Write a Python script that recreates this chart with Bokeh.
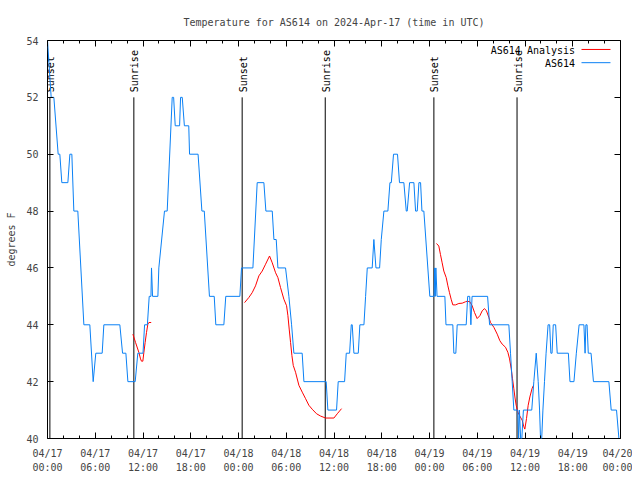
import math
from bokeh.plotting import figure
from bokeh.models import FixedTicker, LinearAxis, Range1d
from bokeh.embed import file_html
from bokeh.resources import INLINE
from bokeh.core.properties import value

TITLE = "Temperature for AS614 on 2024-Apr-17 (time in UTC)"
FONT = "DejaVu Sans Mono"

# Observed temperature (hours since 04/17 00:00 UTC, degrees F)
obs_hours = [0.0, 0.46, 0.8, 1.34, 1.55, 1.8, 2.56, 2.81, 3.06, 3.31, 3.81, 4.57,
             5.32, 5.74, 6.07, 6.87, 7.08, 9.09, 9.43, 9.85, 10.1, 11.02, 11.35,
             12.0, 12.2, 12.55, 12.78, 13.0, 13.07, 13.2, 13.87, 13.99, 14.7, 15.04,
             15.67, 15.85, 16.05, 16.6, 16.72, 16.93, 17.2, 17.75, 17.85, 18.92,
             19.4, 19.7, 20.35, 20.95, 21.15, 22.16, 22.4, 24.17, 24.38, 25.81,
             26.35, 27.19, 27.44, 28.24, 28.45, 28.74, 28.95, 29.91, 30.33, 30.67,
             30.96, 32.0, 32.22, 35.02, 35.23, 36.32, 36.53, 37.33, 37.54, 37.96,
             38.17, 38.29, 38.5, 39.05, 39.25, 39.76, 39.97, 40.18, 40.8, 41.01,
             41.27, 41.73, 41.94, 42.27, 42.77, 43.03, 43.2, 43.48, 43.98, 44.23,
             44.78, 45.08, 45.2, 45.5, 46.04, 46.25, 46.46, 46.67, 46.88, 47.05,
             47.29, 48.04, 48.58, 48.65, 48.72, 48.8, 48.95, 49.93, 50.07, 50.93,
             51.06, 51.31, 51.48, 52.61, 52.8, 53.05, 53.2, 53.35, 55.3, 55.55,
             57.97, 58.18, 58.39, 58.6, 59.1, 59.2, 59.3, 59.45, 59.6, 59.8, 60.85,
             61.11, 61.41, 61.66, 61.83, 61.95, 62.1, 62.25, 62.45, 62.65, 62.9,
             63.1, 63.25, 63.4, 63.55, 63.85, 64.05, 65.45, 65.65, 66.15, 66.45,
             66.8, 67.4, 67.55, 67.65, 67.8, 67.95, 68.3, 68.6, 70.54, 70.83, 71.5,
             71.8]
obs_temp = [54, 52, 52, 50, 50, 49, 49, 50, 50, 48, 48, 44,
            44, 42, 43, 43, 44, 44, 43, 43, 42, 42, 43,
            43, 44, 44, 45, 45, 46, 45, 45, 46, 48, 48,
            52, 52, 51, 51, 52, 52, 51, 51, 50, 50,
            48, 48, 45, 45, 44, 44, 45, 45, 46, 46,
            49, 49, 48, 48, 47, 47, 46, 46, 45, 44,
            43, 43, 42, 42, 41, 41, 42, 42, 43, 43,
            44, 44, 43, 43, 44, 44, 45, 46, 46, 47,
            46, 46, 47, 48, 48, 49, 49, 50, 50, 49,
            49, 48, 48, 49, 49, 48, 48, 49, 49, 48,
            48, 45, 45, 46, 45, 46, 45, 45, 44, 44,
            43, 43, 44, 44, 45, 45, 44, 45, 45, 44,
            44, 43, 42, 41, 41, 40, 41, 40, 40, 41, 41,
            42, 43, 42, 41, 40, 40, 41, 42, 43, 44,
            44, 43, 43, 44, 44, 43, 43, 42, 42, 43,
            44, 44, 43, 44, 44, 43, 43, 42, 42, 41, 41,
            40]

# Analysis series (NaN separates the three runs)
nan = float("nan")
ana_hours = [10.73, 11.06, 11.48, 11.69, 11.81, 11.98, 12.11, 12.27, 12.44, 12.61, 12.74, 13.03,
             nan,
             24.76, 25.30, 25.72, 26.14, 26.56, 26.98, 27.40, 27.90, 28.24, 28.66, 28.95,
             29.28, 29.70, 30.04, 30.21, 30.37, 30.54, 30.71, 30.88, 31.17, 31.59, 32.01,
             32.43, 32.84, 33.26, 33.81, 34.31, 34.94, 35.99, 36.41, 36.95,
             nan,
             48.88, 49.17, 49.38, 49.59, 49.80, 50.10, 50.31, 50.51, 50.72, 50.93, 51.27,
             51.69, 52.11, 52.53, 52.74, 53.07, 53.36, 53.66, 53.99, 54.33, 54.62, 54.91,
             55.16, 55.46, 55.67, 56.09, 56.51, 56.84, 57.13, 57.55, 57.85, 58.06, 58.27,
             58.43, 58.60, 58.73, 58.89, 59.10, 59.35, 59.65, 59.86, 59.98, 60.19, 60.40,
             60.61, 60.90, 61.07]
ana_temp = [43.67, 43.38, 43.03, 42.80, 42.72, 42.72, 43.03, 43.38, 43.73, 44.02, 44.08, 44.08,
            nan,
            44.78, 44.96, 45.13, 45.37, 45.72, 45.89, 46.13, 46.42, 46.18, 45.83, 45.66,
            45.31, 44.90, 44.67, 44.32, 43.85, 43.38, 42.92, 42.57, 42.33, 41.87, 41.63,
            41.40, 41.17, 41.03, 40.87, 40.79, 40.72, 40.72, 40.87, 41.05,
            nan,
            46.86, 46.77, 46.47, 46.18, 45.89, 45.66, 45.37, 45.13, 44.90, 44.70, 44.70,
            44.75, 44.76, 44.81, 44.83, 44.81, 44.67, 44.43, 44.22, 44.32, 44.49, 44.57,
            44.49, 44.26, 44.08, 43.91, 43.67, 43.44, 43.32, 43.21, 43.03, 42.80, 42.45,
            42.10, 41.75, 41.46, 41.17, 40.93, 40.79, 40.64, 40.41, 40.33, 40.70, 41.17,
            41.46, 41.77, 41.87]

sunset_hours = [0.3, 24.46, 48.55]
sunrise_hours = [10.85, 34.9, 59.0]

x_tick_hours = [0, 6, 12, 18, 24, 30, 36, 42, 48, 54, 60, 66, 72]
x_minor_hours = [h for h in range(0, 73, 2) if h % 6 != 0]
x_tick_labels = ["04/17\n00:00", "04/17\n06:00", "04/17\n12:00", "04/17\n18:00",
                 "04/18\n00:00", "04/18\n06:00", "04/18\n12:00", "04/18\n18:00",
                 "04/19\n00:00", "04/19\n06:00", "04/19\n12:00", "04/19\n18:00",
                 "04/20\n00:00"]
y_ticks = [40, 42, 44, 46, 48, 50, 52, 54]

legend_labels = ["AS614 Analysis", "AS614"]
RED = "#ff0000"
BLUE = "#0a80f5"

p = figure(width=632, height=476, x_range=Range1d(0, 72), y_range=Range1d(40, 54),
           output_backend="svg", toolbar_location=None, title=TITLE,
           min_border_left=47, min_border_right=12, min_border_top=40, min_border_bottom=36)
p.background_fill_color = "white"
p.border_fill_color = "white"
p.outline_line_color = "black"
p.outline_line_width = 1
p.xgrid.visible = False
p.ygrid.visible = False

p.title.text_font = FONT
p.title.text_font_size = "10px"
p.title.text_font_style = "normal"
p.title.align = "center"
p.title.standoff = 26

xt = FixedTicker(ticks=x_tick_hours, minor_ticks=x_minor_hours)
yt = FixedTicker(ticks=y_ticks)

ax = p.xaxis[0]
ax.ticker = xt
ax.major_label_overrides = {h: lab for h, lab in zip(x_tick_hours, x_tick_labels)}
ax.major_tick_in = 6
ax.major_tick_out = 0
ax.minor_tick_in = 3
ax.minor_tick_out = 0
ax.major_label_standoff = 9
ax.major_label_text_font = FONT
ax.major_label_text_font_size = "10px"
ax.major_label_text_line_height = 1.35
ax.axis_line_color = None

ay = p.yaxis[0]
ay.ticker = yt
ay.major_tick_in = 6
ay.major_tick_out = 0
ay.minor_tick_in = 0
ay.minor_tick_out = 0
ay.major_label_standoff = 9
ay.major_label_text_font = FONT
ay.major_label_text_font_size = "10px"
ay.axis_label = "degrees F"
ay.axis_label_text_font = FONT
ay.axis_label_text_font_size = "10px"
ay.axis_label_text_font_style = "normal"
ay.axis_label_standoff = 6
ay.axis_line_color = None

top = LinearAxis(ticker=xt, major_tick_in=6, major_tick_out=0, minor_tick_in=3, minor_tick_out=0,
                 major_label_text_font_size="1px", major_label_text_color=None,
                 major_label_standoff=0, axis_line_color=None)
p.add_layout(top, "above")
right = LinearAxis(ticker=yt, major_tick_in=6, major_tick_out=0, minor_tick_in=0, minor_tick_out=0,
                   major_label_text_font_size="1px", major_label_text_color=None,
                   major_label_standoff=0, axis_line_color=None)
p.add_layout(right, "right")

# sunrise / sunset markers
marker_top = 52
p.segment(x0=sunset_hours + sunrise_hours, y0=[40] * 6, x1=sunset_hours + sunrise_hours,
          y1=[marker_top] * 6, line_color="black", line_width=1)
p.text(x=sunset_hours + sunrise_hours, y=[52.18] * 6,
       text=["Sunset"] * 3 + ["Sunrise"] * 3, angle=math.pi / 2,
       text_align="left", text_baseline="middle", x_offset=1,
       text_font=value(FONT), text_font_size="10px", text_color="black")

# data
p.line(ana_hours, ana_temp, line_color=RED, line_width=1)
p.line(obs_hours, obs_temp, line_color=BLUE, line_width=1)

# legend (gnuplot style: text then sample)
p.text(x=[66.29, 66.29], y=[53.65, 53.2], text=legend_labels, text_align="right",
       text_baseline="middle", text_font=value(FONT), text_font_size="10px", text_color="black")
p.segment(x0=[67.1, 67.1], y0=[53.685, 53.22], x1=[70.74, 70.74], y1=[53.685, 53.22],
          line_color=[RED, BLUE], line_width=1)

open("out.html", "w").write(file_html(p, INLINE))
